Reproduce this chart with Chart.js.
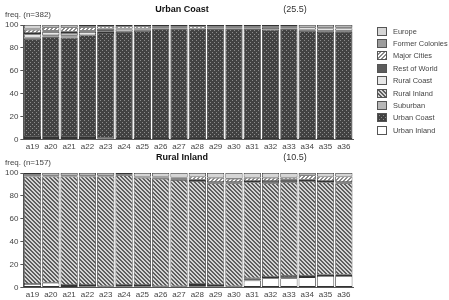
<!DOCTYPE html>
<html>
<head>
<meta charset="utf-8">
<script src="https://cdn.jsdelivr.net/npm/chart.js@4.4.1/dist/chart.umd.min.js"></script>
<style>
  body { margin: 0; background: #fff; font-family: "Liberation Sans", Arial, sans-serif; }
  #wrap { position: relative; width: 449px; height: 300px; overflow: hidden; }
  .panel { position: absolute; left: 0; }
  #legend { position: absolute; left: 377px; top: 25px; }
  .item { display: flex; align-items: center; height: 12.4px; font-size: 7.4px; color: #444; white-space: nowrap; }
  .item canvas { margin-right: 6px; }
</style>
</head>
<body>
<div id="wrap">
  <canvas id="coast" class="panel" width="362" height="155" style="top:0"></canvas>
  <canvas id="inland" class="panel" width="362" height="155" style="top:148px"></canvas>
  <div id="legend"></div>
</div>
<script>
const categories = ['a19','a20','a21','a22','a23','a24','a25','a26','a27','a28','a29','a30','a31','a32','a33','a34','a35','a36'];
const seriesNames = ['Europe','Former Colonies','Major Cities','Rest of World','Rural Coast','Rural Inland','Suburban','Urban Coast','Urban Inland'];

// Urban Coast panel (n=382)
const ucEurope   = [3,2,2,1,1,1,1,1,1,1,1,1,1,1,1,2,2,2];
const ucFormer   = [1,0,0,1,0,0,0,0,0,0,1,1,1,1,0,0,0,0];
const ucMajor    = [3,3,4,3,2,2,2,1,1,2,0,0,0,0,0,0,0,0];
const ucRest     = [1,1,1,1,3,1,1,1,1,0,1,1,1,2,1,0,1,1];
const ucRurCoast = [3,3,2,3,0,2,1,0,0,0,0,0,0,0,1,2,2,2];
const ucRurIn    = [0,0,1,0,0,0,0,0,0,0,0,0,0,0,0,0,0,0];
const ucSuburb   = [1,1,1,0,1,0,0,0,0,0,0,0,0,0,0,1,1,1];
const ucUrbCoast = [86,88,87,89,92,94,95,97,97,97,97,97,97,96,97,95,94,94];
const ucUrbIn    = [2,2,2,2,1,0,0,0,0,0,0,0,0,0,0,0,0,0];

// Rural Inland panel (n=157)
const riEurope   = [1,2,2,2,2,1,3,3,4,3,4,5,4,4,4,2,3,3];
const riFormer   = [0,0,0,0,0,0,0,0,0,0,0,0,0,0,0,0,0,0];
const riMajor    = [1,0,0,0,0,0,0,1,1,3,4,3,3,3,2,4,4,5];
const riRest     = [1,1,1,1,1,1,1,1,1,1,1,1,1,2,2,1,1,1];
const riRurCoast = [0,0,0,0,0,0,0,0,0,0,0,0,0,0,0,0,0,0];
const riRurIn    = [94,93,95,95,96,96,94,94,93,90,89,90,84,82,82,83,81,80];
const riSuburb   = [0,0,0,1,0,1,1,0,0,1,0,0,0,0,0,0,0,0];
const riUrbCoast = [0,0,0,0,1,1,1,1,1,1,1,0,2,1,2,1,1,1];
const riUrbIn    = [3,4,2,1,0,0,0,0,0,1,1,1,6,8,8,9,10,10];

// fills: plain greys and three small tiled patterns
function tile(draw) {
  const c = document.createElement('canvas');
  c.width = 4; c.height = 4;
  draw(c.getContext('2d'));
  return c.getContext('2d').createPattern(c, 'repeat');
}
const urbanCoastFill = tile(g => {
  g.fillStyle = '#424242'; g.fillRect(0, 0, 4, 4);
  g.fillStyle = '#8c8c8c'; g.fillRect(0, 0, 1, 1); g.fillRect(2, 2, 1, 1);
});
const ruralInlandFill = tile(g => {
  g.fillStyle = '#d4d4d4'; g.fillRect(0, 0, 4, 4);
  g.fillStyle = '#5e5e5e';
  for (let i = 0; i < 4; i++) { g.fillRect(i, i, 1, 1); g.fillRect((i + 1) % 4, i, 1, 1); }
});
const majorCitiesFill = tile(g => {
  g.fillStyle = '#ffffff'; g.fillRect(0, 0, 4, 4);
  g.fillStyle = '#8a8a8a';
  for (let i = 0; i < 4; i++) { g.fillRect(3 - i, i, 1, 1); g.fillRect((4 - i) % 4, i, 1, 1); }
});

const fills = {
  'Europe': '#d6d6d6',
  'Former Colonies': '#9c9c9c',
  'Major Cities': majorCitiesFill,
  'Rest of World': '#5c5c5c',
  'Rural Coast': '#e8e8e8',
  'Rural Inland': ruralInlandFill,
  'Suburban': '#b8b8b8',
  'Urban Coast': urbanCoastFill,
  'Urban Inland': '#ffffff'
};

// bottom of the stack first
const stackOrder = ['Urban Inland','Urban Coast','Suburban','Rural Inland','Rural Coast','Rest of World','Major Cities','Former Colonies','Europe'];

const coastSeries = {
  'Europe': ucEurope, 'Former Colonies': ucFormer, 'Major Cities': ucMajor, 'Rest of World': ucRest,
  'Rural Coast': ucRurCoast, 'Rural Inland': ucRurIn, 'Suburban': ucSuburb, 'Urban Coast': ucUrbCoast, 'Urban Inland': ucUrbIn
};
const inlandSeries = {
  'Europe': riEurope, 'Former Colonies': riFormer, 'Major Cities': riMajor, 'Rest of World': riRest,
  'Rural Coast': riRurCoast, 'Rural Inland': riRurIn, 'Suburban': riSuburb, 'Urban Coast': riUrbCoast, 'Urban Inland': riUrbIn
};

const panelText = {
  id: 'panelText',
  afterDraw(chart, args, opts) {
    const c = chart.ctx;
    c.save();
    c.textBaseline = 'middle';
    c.fillStyle = '#444';
    c.textAlign = 'left';
    c.font = '8px "Liberation Sans", Arial, sans-serif';
    c.fillText(opts.freq, 5, 15);
    c.fillStyle = '#111';
    c.textAlign = 'center';
    c.font = 'bold 9px "Liberation Sans", Arial, sans-serif';
    c.fillText(opts.title, 182, 10);
    c.fillStyle = '#333';
    c.font = '9px "Liberation Sans", Arial, sans-serif';
    c.fillText(opts.note, 295, 10);
    c.restore();
  }
};

function makePanel(id, series, title, note, freq) {
  return new Chart(document.getElementById(id), {
    type: 'bar',
    data: {
      labels: categories,
      datasets: stackOrder.map(name => ({
        label: name,
        data: series[name].map(v => v === 0 ? null : v),
        backgroundColor: fills[name],
        borderColor: '#333',
        borderWidth: 0.8,
        borderSkipped: false,
        categoryPercentage: 1,
        barPercentage: 0.94
      }))
    },
    options: {
      responsive: false,
      animation: false,
      layout: { padding: { top: 25, left: 3, right: 9, bottom: 0 } },
      plugins: {
        legend: { display: false },
        tooltip: { enabled: false },
        panelText: { title: title, note: note, freq: freq }
      },
      scales: {
        x: {
          stacked: true,
          grid: { display: true, drawOnChartArea: false, drawTicks: false },
          border: { display: true, color: '#555' },
          ticks: {
            color: '#444', padding: 3, autoSkip: false, maxRotation: 0, minRotation: 0,
            font: { size: 8, family: '"Liberation Sans", Arial, sans-serif' }
          }
        },
        y: {
          stacked: true,
          min: 0,
          max: 100,
          grid: { drawOnChartArea: false, tickLength: 3, color: '#555' },
          border: { display: true, color: '#555' },
          ticks: { stepSize: 20, color: '#444', padding: 2, font: { size: 8, family: '"Liberation Sans", Arial, sans-serif' } }
        }
      }
    },
    plugins: [panelText]
  });
}

makePanel('coast', coastSeries, 'Urban Coast', '(25.5)', 'freq. (n=382)');
makePanel('inland', inlandSeries, 'Rural Inland', '(10.5)', 'freq. (n=157)');

// legend with the same fills
const legend = document.getElementById('legend');
seriesNames.forEach(name => {
  const row = document.createElement('div');
  row.className = 'item';
  const sw = document.createElement('canvas');
  sw.width = 10; sw.height = 9;
  const g = sw.getContext('2d');
  g.fillStyle = fills[name];
  g.fillRect(0, 0, 10, 9);
  g.strokeStyle = '#555';
  g.lineWidth = 1;
  g.strokeRect(0.5, 0.5, 9, 8);
  row.appendChild(sw);
  const t = document.createElement('span');
  t.textContent = name;
  row.appendChild(t);
  legend.appendChild(row);
});
</script>
</body>
</html>
